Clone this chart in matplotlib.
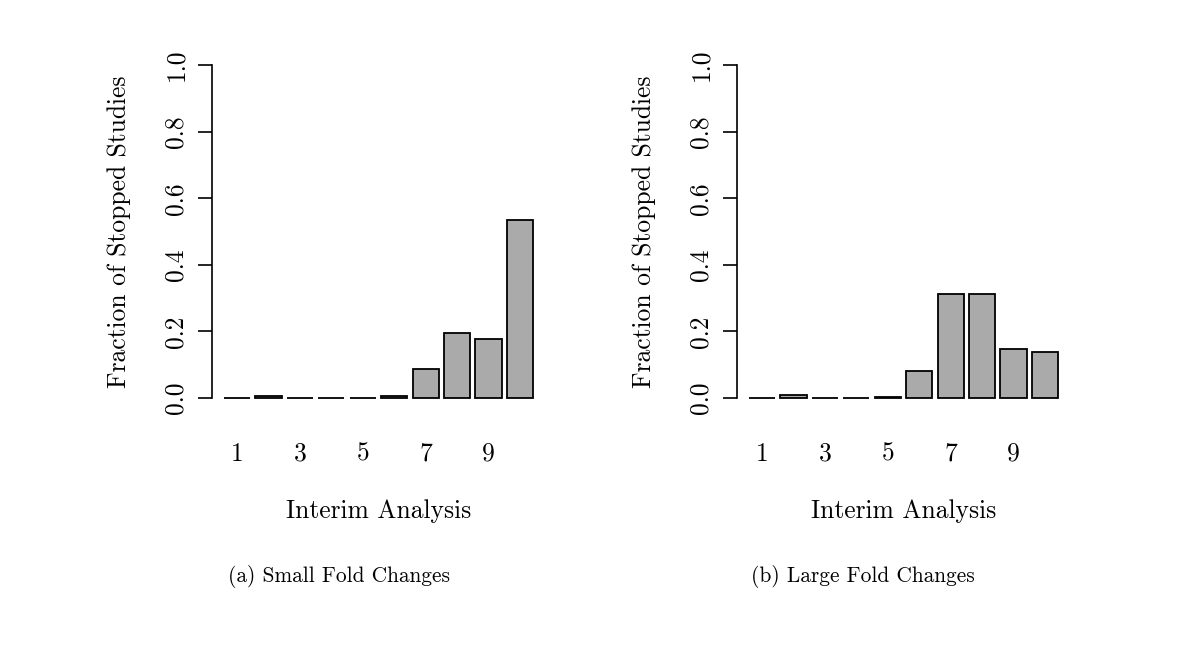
import matplotlib
matplotlib.use("Agg")
import matplotlib.pyplot as plt
import numpy as np

plt.rcParams['font.family'] = 'cmr10'
plt.rcParams['mathtext.fontset'] = 'cm'
plt.rcParams['axes.formatter.use_mathtext'] = True

analyses = list(range(1, 11))
small_fold = [0.0, 0.006, 0.0, 0.0, 0.0, 0.005, 0.087, 0.195, 0.177, 0.535]
large_fold = [0.0, 0.010, 0.0, 0.0, 0.003, 0.081, 0.311, 0.312, 0.147, 0.138]
y_ticks = [0.0, 0.2, 0.4, 0.6, 0.8, 1.0]
x_tick_labels = ['1', '3', '5', '7', '9']
captions = ['(a) Small Fold Changes', '(b) Large Fold Changes']
ylabel = 'Fraction of Stopped Studies'
xlabel = 'Interim Analysis'

W, H = 1200, 646
fig = plt.figure(figsize=(W / 100, H / 100), dpi=100)

def ax_rect(x0, x1, y0, y1):
    return [x0 / W, 1 - y1 / H, (x1 - x0) / W, (y1 - y0) / H]

FS = 18.4
panels = [(small_fold, 211.6, captions[0], 338.5), (large_fold, 736.6, captions[1], 863)]
for vals, left, cap, capx in panels:
    ax = fig.add_axes(ax_rect(left, left + 333.8, 51.7, 411.3))
    n = len(vals)
    lefts = 0.2 + 1.2 * np.arange(n)
    centers = lefts + 0.5
    ax.bar(centers, vals, width=1.0, color='#aaaaaa', edgecolor='black', linewidth=1.3)
    ax.set_xlim(-0.272, 12.472)
    ax.set_ylim(-0.04, 1.04)
    for s in ['top', 'right', 'bottom']:
        ax.spines[s].set_visible(False)
    ax.spines['left'].set_bounds(0, 1)
    ax.spines['left'].set_linewidth(1.2)
    ax.set_yticks(y_ticks)
    ax.set_yticklabels([f'{v:.1f}' for v in y_ticks], rotation=90, va='center', fontsize=FS)
    ax.tick_params(axis='y', length=10, width=1.2, pad=7)
    ax.set_xticks(centers[0::2])
    ax.set_xticklabels(x_tick_labels, fontsize=FS)
    ax.tick_params(axis='x', length=0, pad=22)
    ax.set_ylabel(ylabel, fontsize=FS, labelpad=24)
    ax.set_xlabel(xlabel, fontsize=FS, labelpad=24)
    fig.text(capx / W, 1 - 576 / H, cap, ha='center', va='center', fontsize=15.4)

fig.savefig('out.png', dpi=100)
